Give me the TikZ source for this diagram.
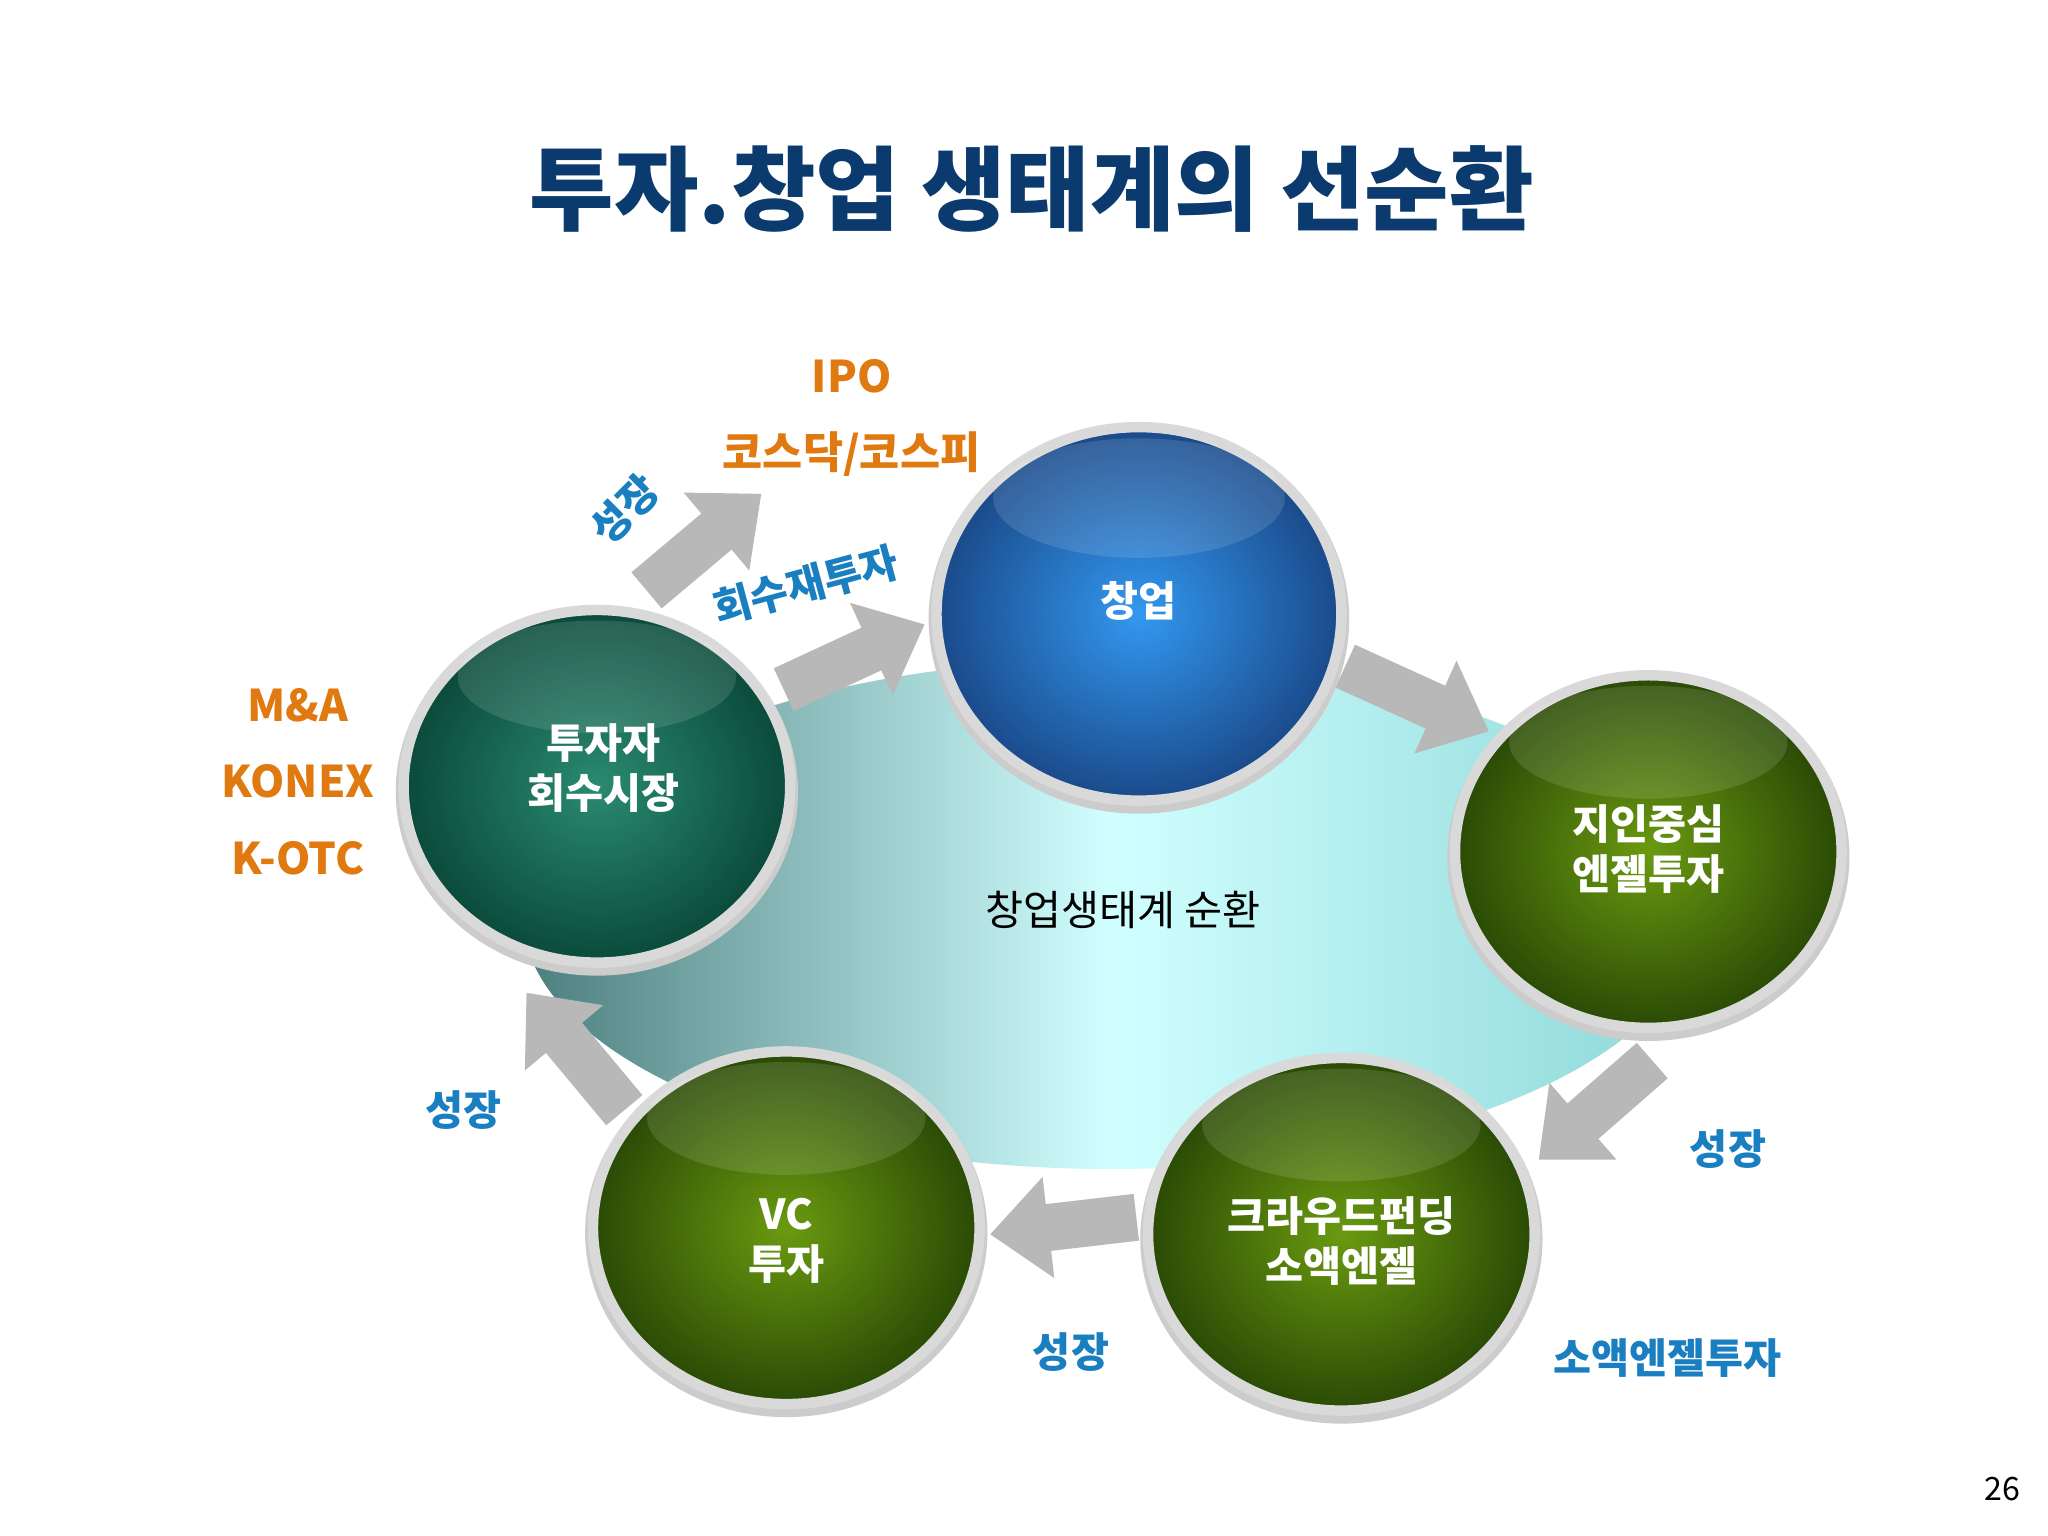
\documentclass[tikz,border=0pt]{standalone}
\usepackage{fontspec}
\setmainfont{Noto Sans CJK KR}
\usetikzlibrary{arrows.meta}
\definecolor{titleblue}{HTML}{0B3A6E}
\definecolor{lbl}{HTML}{1A7FC0}
\definecolor{org}{HTML}{E07A10}
\definecolor{gdark}{HTML}{2A4A05}
\definecolor{glight}{HTML}{6A9A10}
\definecolor{tdark}{HTML}{0A4A3A}
\definecolor{tlight}{HTML}{2A8A70}
\definecolor{bdark}{HTML}{1A4A8A}
\definecolor{blight}{HTML}{3398F0}
\tikzset{
 garrow/.style={line width=0.36cm, draw=black!28, -{Triangle[length=0.45cm,width=0.75cm]}},
 ctext/.style={text=white, font=\bfseries\fontsize{9}{11}\selectfont, align=center},
 olab/.style={text=org, font=\bfseries\fontsize{9.5}{11}\selectfont},
 blab/.style={text=lbl, font=\bfseries\fontsize{9}{11}\selectfont},
}
\newcommand{\ball}[6]{% x y rx ry dark light
 \fill[black!20] (#1,#2+4) ellipse[x radius=#3+6,y radius=#4+6];
 \shade[inner color=#6, outer color=#5, draw=white!85!black, line width=0.08cm] (#1,#2) ellipse[x radius=#3,y radius=#4];
 \fill[white,opacity=0.12] (#1,#2-#4*0.62) ellipse[x radius=#3*0.72,y radius=#4*0.32];
}
\begin{document}
\begin{tikzpicture}[x=0.01cm,y=-0.01cm]
\useasboundingbox (0,0) rectangle (1568,1176);
\fill[white] (0,0) rectangle (1568,1176);
\node[text=titleblue,font=\bfseries\fontsize{20}{24}\selectfont] (title) at (790,145) {투자.창업 생태계의 선순환};
% background ellipse
\shade[left color=black!45!teal!70, right color=black!35!cyan!45, middle color=cyan!18] (850,700) ellipse[x radius=450,y radius=195];
\node[font=\fontsize{9}{11}\selectfont] (center) at (860,697) {창업생태계 순환};
% arrows
\coordinate (a1s) at (600,528); \coordinate (a1e) at (708,478);
\coordinate (a2s) at (495,452); \coordinate (a2e) at (583,378);
\coordinate (a3s) at (1030,510); \coordinate (a3e) at (1140,560);
\coordinate (a4s) at (1265,812); \coordinate (a4e) at (1178,888);
\coordinate (a5s) at (870,932); \coordinate (a5e) at (758,945);
\coordinate (a6s) at (478,850); \coordinate (a6e) at (403,760);
\foreach \s/\e in {a1s/a1e,a2s/a2e,a3s/a3e,a4s/a4e,a5s/a5e,a6s/a6e}
 \draw[garrow] (\s) -- (\e);
% balls
\ball{872}{470}{155}{143}{bdark}{blight}
\ball{457}{602}{148}{135}{tdark}{tlight}
\ball{1262}{652}{148}{135}{gdark}{glight}
\ball{1027}{945}{148}{135}{gdark}{glight}
\ball{602}{940}{148}{135}{gdark}{glight}
\node[ctext] (n1) at (872,460) {창업};
\node[ctext] (n2) at (462,588) {투자자\\회수시장};
\node[ctext] (n3) at (1262,650) {지인중심\\엔젤투자};
\node[ctext] (n4) at (1027,950) {크라우드펀딩\\소액엔젤};
\node[ctext] (n5) at (602,950) {VC\\투자};
% labels
\node[olab] (ipo) at (652,288) {IPO};
\node[olab] (kos) at (652,348) {코스닥/코스피};
\node[olab] (ma) at (228,540) {M\&A};
\node[olab] (konex) at (228,598) {KONEX};
\node[olab] (kotc) at (228,657) {K-OTC};
\node[blab,rotate=45] (g1) at (478,390) {성장};
\node[blab,rotate=15] (rec) at (617,448) {회수재투자};
\node[blab] (g2) at (355,850) {성장};
\node[blab] (g3) at (820,1035) {성장};
\node[blab] (g4) at (1323,880) {성장};
\node[blab] (sa) at (1277,1040) {소액엔젤투자};
\node[font=\fontsize{7}{8}\selectfont] (pg) at (1533,1140) {26};
\end{tikzpicture}
\end{document}
